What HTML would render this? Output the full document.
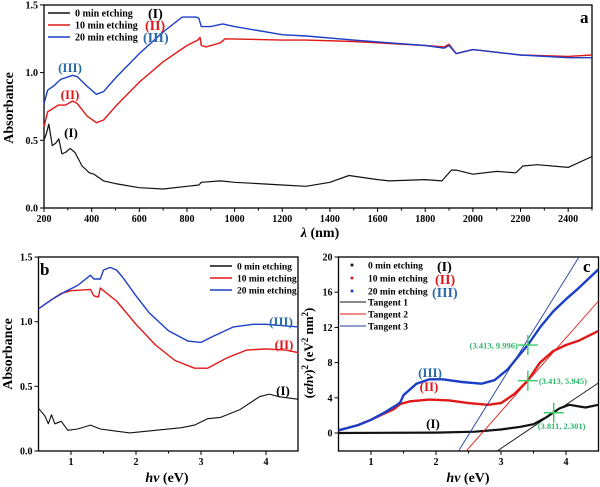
<!DOCTYPE html>
<html><head><meta charset="utf-8"><style>
body{margin:0;background:#fff}
svg{display:block}
svg text{font-family:"Liberation Serif","DejaVu Serif","Times New Roman",serif;font-weight:bold}
</style></head><body>
<svg id="fig" width="600" height="487" viewBox="0 0 600 487">
<g id="pa"></g>
<g id="pb"></g>
<g id="pc"></g>
</svg>
<script>
// Panel a data (wavelength nm, absorbance)
const aBlackX=[200,210,220,235,250,262,275,290,310,330,360,390,410,450,500,600,700,800,850,860,940,1000,1200,1300,1400,1480,1600,1650,1800,1870,1910,1930,2000,2100,2180,2210,2270,2400,2500];
const aBlackY=[0.5,0.55,0.62,0.46,0.48,0.51,0.40,0.41,0.44,0.41,0.31,0.26,0.25,0.20,0.18,0.15,0.14,0.16,0.17,0.19,0.20,0.19,0.17,0.16,0.19,0.24,0.21,0.20,0.21,0.20,0.28,0.28,0.25,0.27,0.26,0.31,0.32,0.30,0.38];
const aRedX=[200,215,260,290,320,340,380,420,450,500,600,700,800,845,855,860,880,940,960,1200,1300,1500,1800,1880,1900,1930,2000,2200,2400,2500];
const aRedY=[0.6,0.71,0.76,0.76,0.79,0.77,0.68,0.63,0.65,0.75,0.93,1.08,1.2,1.24,1.26,1.2,1.19,1.22,1.25,1.24,1.24,1.23,1.2,1.19,1.21,1.14,1.17,1.13,1.12,1.13];
const aBlueX=[200,215,240,270,320,340,380,420,450,500,600,700,780,840,850,860,900,950,1000,1200,1300,1500,1800,1880,1900,1930,2000,2200,2400,2500];
const aBlueY=[0.77,0.87,0.9,0.95,0.98,0.97,0.9,0.84,0.86,0.96,1.14,1.3,1.41,1.41,1.4,1.34,1.34,1.36,1.34,1.28,1.27,1.24,1.2,1.18,1.2,1.14,1.17,1.13,1.11,1.11];
const aXTicks=[200,400,600,800,1000,1200,1400,1600,1800,2000,2200,2400];
const aYTicks=[0.0,0.5,1.0,1.5];
// Panel b data (hv eV, absorbance)
const bBlueX=[0.5,0.7,0.9,1.1,1.3,1.35,1.45,1.5,1.6,1.7,1.8,2.0,2.2,2.5,2.8,3.0,3.2,3.5,3.8,4.0,4.5];
const bBlueY=[1.1,1.17,1.23,1.28,1.36,1.33,1.33,1.40,1.42,1.40,1.34,1.2,1.07,0.93,0.85,0.84,0.89,0.96,0.98,0.98,0.96];
const bRedX=[0.5,0.7,0.85,1.0,1.3,1.35,1.42,1.45,1.55,1.7,2.0,2.3,2.6,2.9,3.1,3.4,3.7,4.0,4.3,4.5];
const bRedY=[1.1,1.17,1.22,1.24,1.25,1.2,1.19,1.26,1.22,1.16,0.98,0.82,0.7,0.64,0.64,0.72,0.78,0.79,0.78,0.76];
const bBlackX=[0.5,0.55,0.6,0.65,0.7,0.75,0.85,0.95,1.1,1.3,1.45,1.6,1.9,2.3,2.7,2.9,3.1,3.3,3.6,3.9,4.05,4.2,4.5];
const bBlackY=[0.33,0.3,0.27,0.21,0.28,0.21,0.23,0.16,0.17,0.2,0.17,0.16,0.14,0.16,0.18,0.2,0.25,0.26,0.32,0.42,0.44,0.42,0.4];
const bXTicks=[1,2,3,4];
const bYTicks=[0.0,0.5,1.0,1.5];
// Panel c data (hv eV, (αhv)^2)
const cBlueX=[0.5,0.8,1.0,1.2,1.4,1.45,1.5,1.7,1.9,2.1,2.4,2.7,2.9,3.1,3.3,3.413,3.6,3.8,4.0,4.2,4.5];
const cBlueY=[0.3,0.9,1.5,2.3,3.2,3.5,4.3,5.6,6.1,6.1,5.8,5.6,6.0,7.2,9.0,10.0,12.0,13.8,15.2,16.5,18.6];
const cRedX=[0.5,0.8,1.0,1.2,1.35,1.45,1.6,1.9,2.2,2.5,2.8,3.0,3.2,3.413,3.6,3.8,4.0,4.2,4.5];
const cRedY=[0.3,0.9,1.5,2.2,2.7,3.3,3.6,3.8,3.7,3.4,3.2,3.4,4.4,5.95,8.0,9.3,10.0,10.5,11.6];
const cBlackX=[0.5,2.0,2.6,3.0,3.3,3.5,3.7,3.9,4.05,4.3,4.5];
const cBlackY=[0,0.05,0.15,0.4,0.7,1.0,1.8,2.8,3.2,2.9,3.2];
// tangents 1 (black), 2 (red), 3 (blue)
const cTanX1=[2.95,2.47,2.35];
const cTanY1=[-2,-2,-2];
const cTanX2=[4.5,4.5,4.2];
const cTanY2=[5.7,15,20];
const cMarkX=[3.413,3.413,3.811];
const cMarkY=[9.996,5.945,2.301];
const cMarkLbl=["(3.413, 9.996)","(3.413, 5.945)","(3.811, 2.301)"];
const cXTicks=[1,2,3,4];
const cYTicks=[0,4,8,12,16,20];

const NS="http://www.w3.org/2000/svg";
function mk(parent,tag,attrs,text){const e=document.createElementNS(NS,tag);for(const k in attrs)e.setAttribute(k,attrs[k]);if(text!==undefined)e.textContent=text;parent.appendChild(e);return e;}
const RED="#e01818",BLUE="#1c3fc8",LBL3="#2a6aa8",GRN="#33cc66";

function axes(g,L,T,R,B,sx,sy,xt,yt,xfmt,yfmt,minor){
  const box=mk(g,'rect',{x:L,y:T,width:R-L,height:B-T,fill:'none',stroke:'#000','stroke-width':1.3});
  
  
  xt.forEach(v=>{const x=sx(v);mk(g,'line',{x1:x,x2:x,y1:B,y2:B+4,stroke:'#000'});
    const t=mk(g,'text',{x:x,y:B+14,'font-size':10,'text-anchor':'middle'},xfmt(v));
    });
  minor.forEach(v=>{const x=sx(v);mk(g,'line',{x1:x,x2:x,y1:B,y2:B+2.5,stroke:'#000'});});
  yt.forEach(v=>{const y=sy(v);mk(g,'line',{x1:L-4,x2:L,y1:y,y2:y,stroke:'#000'});
    const t=mk(g,'text',{x:L-6,y:y+3.5,'font-size':10,'text-anchor':'end'},yfmt(v));
    });
}
function line(g,X,Y,sx,sy,col,w,name){
  const d=X.map((x,i)=>(i?'L':'M')+sx(x).toFixed(1)+','+sy(Y[i]).toFixed(1)).join('');
  const p=mk(g,'path',{d:d,fill:'none',stroke:col,'stroke-width':w,'stroke-linejoin':'round'});
  
  
  return p;
}
function txt(g,x,y,s,fs,col,name,anchor){const t=mk(g,'text',{x:x,y:y,'font-size':fs,fill:col||'#000','text-anchor':anchor||'start'},s);
  return t;}

// Panel A
(function(){
const g=document.getElementById('pa');
const sx=v=>44+(v-200)*(548/2300), sy=v=>208-v*135.4;
const minor=[];for(let v=300;v<=2500;v+=200)minor.push(v);
axes(g,44,5,592,208,sx,sy,aXTicks,aYTicks,v=>v,v=>v.toFixed(1),minor);
line(g,aBlackX,aBlackY,sx,sy,'#111',1.2,'series-0min');
line(g,aRedX,aRedY,sx,sy,RED,1.4,'series-10min');
line(g,aBlueX,aBlueY,sx,sy,BLUE,1.4,'series-20min');
[['#111','0 min  etching','(I)','#000'],[RED,'10 min etching','(II)',RED],[BLUE,'20 min etching','(III)',LBL3]].forEach((e,i)=>{
  const y=13+i*12;mk(g,'line',{x1:48,x2:70,y1:y,y2:y,stroke:e[0],'stroke-width':1.5});
  txt(g,75,y+3.5,e[1],10,'#000','legend-entry');
  txt(g,[148,145,143][i],y+5,e[2],14,e[3],'legend-roman-label');});
txt(g,580,23,'a',17,'#000','panel-label-a');
txt(g,70,72,'(III)',13,LBL3,'label-III','middle');
txt(g,70,99,'(II)',13,RED,'label-II','middle');
txt(g,71,137,'(I)',13,'#000','label-I','middle');
const yl=txt(g,0,0,'Absorbance',14,'#000','y-axis-title','middle');yl.setAttribute('transform','translate(13,108) rotate(-90)');
const xl=mk(g,'text',{x:320,y:237,'font-size':14,'text-anchor':'middle'});
mk(xl,'tspan',{'font-style':'italic'},'λ');mk(xl,'tspan',{},' (nm)');
})();

// Panel B
(function(){
const g=document.getElementById('pb');
const sx=v=>38.5+(v-0.5)*65, sy=v=>451-v*129.3;
axes(g,38.5,257,298,451,sx,sy,bXTicks,bYTicks,v=>v,v=>v.toFixed(1),[1.5,2.5,3.5]);
line(g,bBlackX,bBlackY,sx,sy,'#111',1.1,'series-0min');
line(g,bRedX,bRedY,sx,sy,RED,1.4,'series-10min');
line(g,bBlueX,bBlueY,sx,sy,BLUE,1.4,'series-20min');
[['#111','0 min etching'],[RED,'10 min etching'],[BLUE,'20 min etching']].forEach((e,i)=>{
  const y=266+i*12;mk(g,'line',{x1:210,x2:232,y1:y,y2:y,stroke:e[0],'stroke-width':1.5});
  txt(g,237,y+3.5,e[1],9.5,'#000','legend-entry');});
txt(g,40,275,'b',17,'#000','panel-label-b');
txt(g,281,326,'(III)',13,LBL3,'label-III','middle');
txt(g,284,349,'(II)',13,RED,'label-II','middle');
txt(g,283,395,'(I)',13,'#000','label-I','middle');
const yl=txt(g,0,0,'Absorbance',14,'#000','y-axis-title','middle');yl.setAttribute('transform','translate(12,354) rotate(-90)');
const xl=mk(g,'text',{x:167,y:482,'font-size':14,'text-anchor':'middle'});
mk(xl,'tspan',{'font-style':'italic'},'hv');mk(xl,'tspan',{},' (eV)');
})();

// Panel C
(function(){
const g=document.getElementById('pc');
const sx=v=>338.5+(v-0.5)*65, sy=v=>433-v*8.8;
axes(g,338.5,257,598.5,451,sx,sy,cXTicks,cYTicks,v=>v,v=>v,[1.5,2.5,3.5]);
const cp=mk(g,'clipPath',{id:'cclip'});mk(cp,'rect',{x:338.5,y:257,width:260,height:194});
const gg=mk(g,'g',{'clip-path':'url(#cclip)'});
line(gg,cBlackX,cBlackY,sx,sy,'#111',2.2,'series-0min');
line(gg,cRedX,cRedY,sx,sy,RED,2.4,'series-10min');
line(gg,cBlueX,cBlueY,sx,sy,BLUE,2.4,'series-20min');
const tc=['#111',RED,'#1c3fa0'];
cTanX1.forEach((x,i)=>{const l=mk(gg,'line',{x1:sx(x),y1:sy(cTanY1[i]),x2:sx(cTanX2[i]),y2:sy(cTanY2[i]),stroke:tc[i],'stroke-width':0.9});
  });
cMarkX.forEach((x,i)=>{const X=sx(x),Y=sy(cMarkY[i]);
  const m=mk(g,'path',{d:`M${X-10},${Y}H${X+10}M${X},${Y-10}V${Y+10}`,stroke:GRN,'stroke-width':1.4});
  
  const lx=i==0?X-10:(i==1?X+11:X-16), ly=i==2?Y+16:Y+3.5;
  txt(g,lx,ly,cMarkLbl[i],8.5,'#2db86a','marker-label',i==0?'end':'start');});
[['#111','0 min etching','(I)','#000',437],[RED,'10 min etching','(II)',RED,435],[BLUE,'20 min etching','(III)',LBL3,432]].forEach((e,i)=>{
  const y=265+i*13;mk(g,'circle',{cx:352,cy:y,r:1.5,fill:e[0]});
  txt(g,368,y+3.5,e[1],9.5,'#000','legend-entry');
  txt(g,e[4],y+6,e[2],14,e[3],'legend-roman-label');});
[['#111','Tangent 1'],[RED,'Tangent 2'],['#1c3fa0','Tangent 3']].forEach((e,i)=>{
  const y=302+i*12;mk(g,'line',{x1:340,x2:366,y1:y,y2:y,stroke:e[0],'stroke-width':1});
  txt(g,368,y+3.5,e[1],9.5,'#000','legend-entry');});
txt(g,583,272,'c',17,'#000','panel-label-c');
txt(g,430,377,'(III)',13,LBL3,'label-III','middle');
txt(g,429,391,'(II)',13,RED,'label-II','middle');
txt(g,433,428,'(I)',13,'#000','label-I','middle');
const yl=mk(g,'text',{'font-size':13,'text-anchor':'middle',transform:'translate(313,353) rotate(-90)'});

yl.innerHTML='(<tspan font-style="italic">αhv</tspan>)<tspan dy="-5" font-size="9">2</tspan><tspan dy="5"> (eV</tspan><tspan dy="-5" font-size="9">2</tspan><tspan dy="5"> nm</tspan><tspan dy="-5" font-size="9">2</tspan><tspan dy="5">)</tspan>';
const xl=mk(g,'text',{x:468,y:482,'font-size':14,'text-anchor':'middle'});
mk(xl,'tspan',{'font-style':'italic'},'hv');mk(xl,'tspan',{},' (eV)');
})();
</script>
</body></html>
